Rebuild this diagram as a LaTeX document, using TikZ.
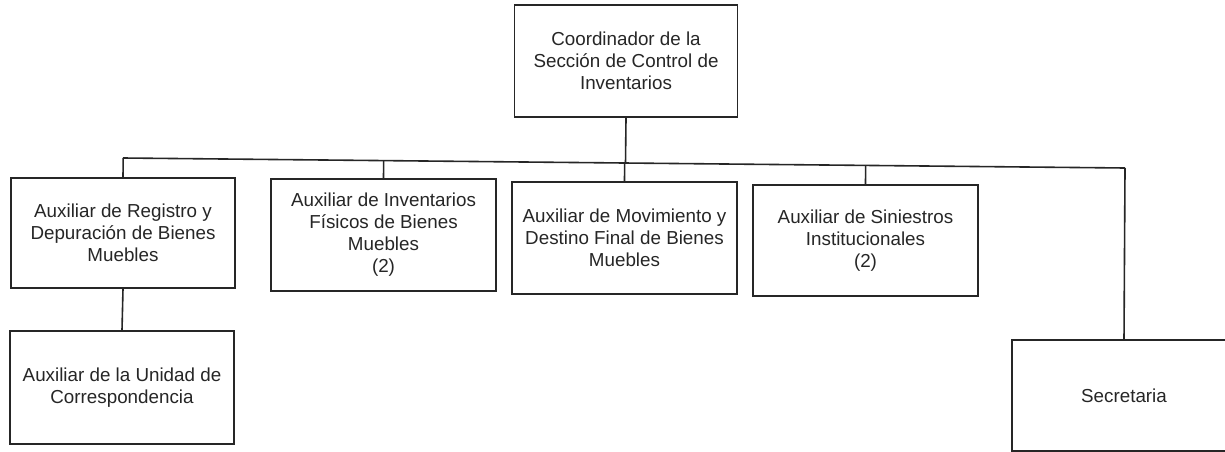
\documentclass[tikz,border=0pt]{standalone}
\usepackage{fontspec}
\setmainfont{Liberation Sans}
\usetikzlibrary{calc}
\tikzset{
  orgbox/.style={draw=black!85, line width=1.6pt, rectangle, align=center, inner sep=2pt,
    font=\fontsize{18.8pt}{22pt}\selectfont, text=black!85},
  link/.style={draw=black!85, line width=1.6pt}
}
\begin{document}
\begin{tikzpicture}[x=1pt,y=-1pt]
\useasboundingbox[fill=white] (0,0) rectangle (1225,452);
\node[orgbox, minimum width=223pt, minimum height=112pt] (top) at (626,61)
  {Coordinador de la\\Sección de Control de\\Inventarios};
\node[orgbox, minimum width=224pt, minimum height=110pt] (b1) at (123,233)
  {Auxiliar de Registro y\\Depuración de Bienes\\Muebles};
\node[orgbox, minimum width=225pt, minimum height=112pt] (b2) at (383.5,235)
  {Auxiliar de Inventarios\\Físicos de Bienes\\Muebles\\(2)};
\node[orgbox, minimum width=225pt, minimum height=112pt] (b3) at (624.5,238)
  {Auxiliar de Movimiento y\\Destino Final de Bienes\\Muebles};
\node[orgbox, minimum width=225pt, minimum height=111pt] (b4) at (865.5,240.5)
  {Auxiliar de Siniestros\\Institucionales\\(2)};
\node[orgbox, minimum width=224pt, minimum height=113pt] (b5) at (122,387.5)
  {Auxiliar de la Unidad de\\Correspondencia};
\node[orgbox, minimum width=224pt, minimum height=111pt] (sec) at (1124,395.5)
  {Secretaria};
\coordinate (busL) at (123,158);
\coordinate (busR) at (1125,168);
\draw[link] (busL) -- (busR);
\draw[link] (top.south) -- ($(busL)!(top.south)!(busR)$);
\draw[link] (b1.north) -- ($(busL)!(b1.north)!(busR)$);
\draw[link] (b2.north) -- ($(busL)!(b2.north)!(busR)$);
\draw[link] (b3.north) -- ($(busL)!(b3.north)!(busR)$);
\draw[link] (b4.north) -- ($(busL)!(b4.north)!(busR)$);
\draw[link] (sec.north) -- (busR);
\draw[link] (b1.south) -- (b5.north);
\end{tikzpicture}
\end{document}
